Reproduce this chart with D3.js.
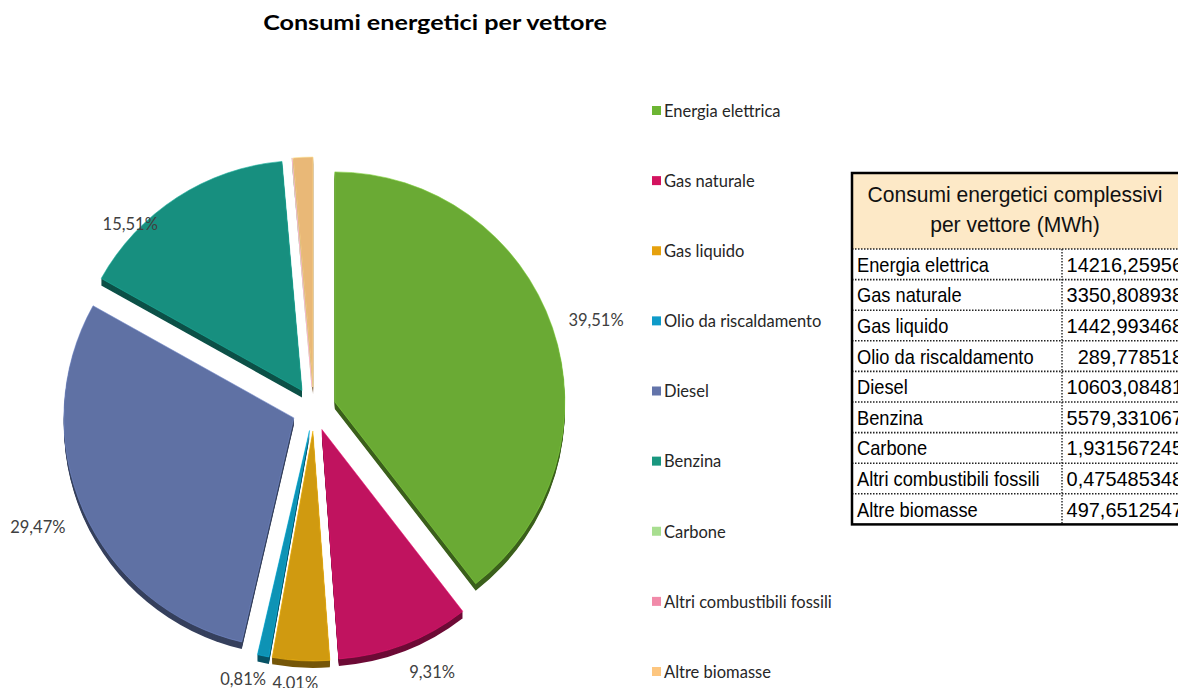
<!DOCTYPE html>
<html>
<head>
<meta charset="utf-8">
<script src="https://cdn.jsdelivr.net/npm/d3@7"></script>
<style>
  html, body { margin: 0; padding: 0; background: #fff; overflow: hidden; }
  svg { display: block; }
</style>
</head>
<body>
<svg id="chart" width="1178" height="688"></svg>
<script>
// Energy carriers and consumption in MWh
const categories = [
  "Energia elettrica", "Gas naturale", "Gas liquido", "Olio da riscaldamento",
  "Diesel", "Benzina", "Carbone", "Altri combustibili fossili", "Altre biomasse"
];
const valuesMWh = [
  14216.25956, 3350.808938, 1442.993468, 289.778518,
  10603.08481, 5579.331067, 1.931567245, 0.475485348, 497.6512547
];
const sliceColors = [
  "#6aaa34", "#c0135f", "#d09a10", "#0e93b5",
  "#5f71a4", "#178f7f", "#a6dc8e", "#ee88a7", "#e9b877"
];
const legendColors = [
  "#6cb533", "#d3135f", "#e6a10d", "#0f9bc9",
  "#6374aa", "#19977f", "#a8de90", "#f18aa9", "#fdc67f"
];
const titleText = "Consumi energetici per vettore";
const tableTitle = ["Consumi energetici complessivi", "per vettore (MWh)"];

// Percent labels: radial distance factor and angle nudge (degrees)
const labelLayout = {
  "Energia elettrica": { k: 1.19, da: 1.5 },
  "Gas naturale": { k: 1.16, da: -3.4 },
  "Gas liquido": { k: 1.10, da: 1 },
  "Olio da riscaldamento": { k: 1.12, da: 3.3 },
  "Diesel": { k: 1.21, da: 0.8 },
  "Benzina": { k: 1.04, da: -13 }
};

const svg = d3.select("#chart");
const fmtPct = v => (v * 100).toFixed(2).replace(".", ",") + "%";
const fmtNum = v => String(v).replace(".", ",");
const total = d3.sum(valuesMWh);

const data = categories.map((c, i) => ({ name: c, value: valuesMWh[i], color: sliceColors[i], legend: legendColors[i] }));

// Title
svg.append("text")
  .attr("transform", "translate(435,30) scale(1.17,1)")
  .attr("text-anchor", "middle")
  .attr("font-family", "Lato, 'Open Sans', sans-serif")
  .attr("font-weight", "bold")
  .attr("font-size", 21.5)
  .attr("fill", "#000")
  .text(titleText);

// Exploded pie with a shallow extruded side
const cx = 314, cy = 409, R = 230, explode = 22, depth = 7;
const pie = d3.pie().sort(null).value(d => d.value);
const arcs = pie(data);
const arc = d3.arc().innerRadius(0).outerRadius(R);
const offset = a => {
  const m = (a.startAngle + a.endAngle) / 2;
  return [explode * Math.sin(m), -explode * Math.cos(m)];
};

const pieG = svg.append("g").attr("transform", `translate(${cx},${cy})`);

// side walls
const sideG = pieG.append("g");
arcs.forEach(a => {
  const [ox, oy] = offset(a);
  const dark = d3.color(a.data.color).darker(1.6);
  for (let s = depth; s >= 1; s--) {
    sideG.append("path")
      .attr("d", arc(a))
      .attr("transform", `translate(${ox},${oy + s})`)
      .attr("fill", dark);
  }
});

// top faces
pieG.append("g").selectAll("path")
  .data(arcs)
  .join("path")
  .attr("d", arc)
  .attr("transform", a => { const [ox, oy] = offset(a); return `translate(${ox},${oy})`; })
  .attr("fill", a => a.data.color)
  .attr("stroke", a => d3.color(a.data.color).brighter(0.6))
  .attr("stroke-width", 0.6);

// percent labels
pieG.append("g").selectAll("text")
  .data(arcs.filter(a => labelLayout[a.data.name]))
  .join("text")
  .attr("transform", a => {
    const L = labelLayout[a.data.name];
    const [ox, oy] = offset(a);
    const m = (a.startAngle + a.endAngle) / 2 + L.da * Math.PI / 180;
    const x = ox + R * L.k * Math.sin(m);
    const y = oy - R * L.k * Math.cos(m);
    return `translate(${x},${y})`;
  })
  .attr("text-anchor", "middle")
  .attr("dy", "0.35em")
  .attr("font-family", "Lato, 'Open Sans', sans-serif")
  .attr("font-size", 16.5)
  .attr("fill", "#404040")
  .text(a => fmtPct(a.data.value / total));

// Legend
const legendY = d3.scalePoint().domain(categories).range([111, 672]);
const legG = svg.append("g");
const li = legG.selectAll("g").data(data).join("g")
  .attr("transform", d => `translate(652,${legendY(d.name)})`);
li.append("rect")
  .attr("x", 0).attr("y", -5)
  .attr("width", 9).attr("height", 9)
  .attr("fill", d => d.legend);
li.append("text")
  .attr("x", 12).attr("y", 0)
  .attr("dy", "0.35em")
  .attr("font-family", "Lato, 'Open Sans', sans-serif")
  .attr("font-size", 16.5)
  .attr("fill", "#262626")
  .text(d => d.name);

// Summary table
const tx = 852, ty = 173, tw = 330, headH = 76, rowH = 30.6, colX = 1062;
const tFont = "'Liberation Sans', Arial, sans-serif";
const tab = svg.append("g");
tab.append("rect")
  .attr("x", tx).attr("y", ty).attr("width", tw).attr("height", headH)
  .attr("fill", "#fde9c7");
tab.selectAll("text.head").data(tableTitle).join("text")
  .attr("class", "head")
  .attr("transform", (d, i) => `translate(${tx + tw / 2 - 2},${ty + 29 + i * 30}) scale(0.98,1)`)
  .attr("text-anchor", "middle")
  .attr("font-family", tFont)
  .attr("font-size", 21.5)
  .attr("fill", "#111")
  .text(d => d);

const rowsTop = ty + headH;
const rowY = d3.scaleBand().domain(categories).range([rowsTop, rowsTop + rowH * categories.length]);

// dotted row separators
tab.selectAll("line.sep").data(categories).join("line")
  .attr("class", "sep")
  .attr("x1", tx).attr("x2", tx + tw)
  .attr("y1", d => rowY(d)).attr("y2", d => rowY(d))
  .attr("stroke", "#222").attr("stroke-width", 1.6)
  .attr("stroke-dasharray", "1.5,1.5");
tab.append("line")
  .attr("x1", colX).attr("x2", colX)
  .attr("y1", rowsTop).attr("y2", rowsTop + rowH * categories.length)
  .attr("stroke", "#222").attr("stroke-width", 1.4)
  .attr("stroke-dasharray", "1.5,1.5");

tab.selectAll("text.cat").data(data).join("text")
  .attr("class", "cat")
  .attr("transform", d => `translate(${tx + 5},${rowY(d.name) + rowH / 2}) scale(0.87,1)`)
  .attr("dy", "0.36em")
  .attr("font-family", tFont)
  .attr("font-size", 21)
  .attr("fill", "#000")
  .text(d => d.name);
tab.selectAll("text.val").data(data).join("text")
  .attr("class", "val")
  .attr("transform", d => `translate(1183,${rowY(d.name) + rowH / 2}) scale(0.95,1)`)
  .attr("dy", "0.36em")
  .attr("text-anchor", "end")
  .attr("font-family", tFont)
  .attr("font-size", 21)
  .attr("fill", "#000")
  .text(d => fmtNum(d.value));

// outer border
tab.append("rect")
  .attr("x", tx).attr("y", ty)
  .attr("width", tw).attr("height", headH + rowH * categories.length)
  .attr("fill", "none")
  .attr("stroke", "#000").attr("stroke-width", 2.5);
</script>
</body>
</html>
